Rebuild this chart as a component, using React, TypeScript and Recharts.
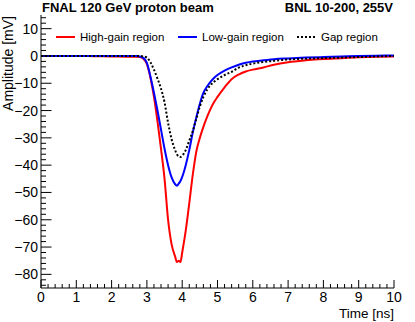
import { Legend, Line, LineChart, XAxis, YAxis } from "recharts";

const time = [
  0, 0.5, 1, 1.5, 2, 2.5, 2.7, 2.8, 2.9, 3.0, 3.1, 3.2, 3.3, 3.4, 3.5, 3.6, 3.7,
  3.8, 3.85, 3.9, 3.95, 4.0, 4.1, 4.2, 4.3, 4.4, 4.5, 4.6, 4.7, 4.8, 4.9, 5.0,
  5.2, 5.4, 5.6, 5.8, 6.0, 6.3, 6.6, 7.0, 7.5, 8.0, 8.5, 9.0, 9.5, 10,
];

const highGain = [
  0, 0, 0, -0.1, -0.2, -0.3, -0.3, -0.4, -1, -3, -8, -15, -24, -34, -45, -60,
  -69, -73.5, -75.5, -75, -75.5, -72, -64, -54, -43.5, -35, -30, -26, -22.5,
  -19.5, -17, -15, -11.5, -8.5, -6.8, -5.7, -5, -4.2, -3.2, -2.3, -1.6, -1.1,
  -0.8, -0.5, -0.3, -0.2,
];

const lowGain = [
  0, 0, 0, 0, 0, 0, 0, -0.2, -0.7, -2.5, -7.5, -13.5, -20, -27, -34, -40,
  -44.5, -47, -47.5, -46.8, -45.8, -44.3, -40, -34.5, -28, -22.5, -17.5, -13.5,
  -11.3, -9.5, -8.1, -7, -5.4, -4.2, -3.2, -2.5, -2, -1.6, -1.2, -0.9, -0.6,
  -0.4, -0.2, 0, 0.1, 0.2,
];

const gap = [
  0, 0, 0, 0, 0, 0, 0, 0, -0.2, -0.6, -2.3, -5, -8.3, -12, -17, -24.5, -30.5,
  -34.5, -36, -36.8, -37, -36.5, -34.5, -31, -27.5, -23, -18.5, -15, -12.5,
  -10.7, -9.5, -8.5, -7, -5.8, -4.3, -3.4, -2.8, -2.2, -1.8, -1.3, -1, -0.8,
  -0.6, -0.4, -0.2, 0,
];

const xMajor = [0, 1, 2, 3, 4, 5, 6, 7, 8, 9, 10];
const yMajor = [-80, -70, -60, -50, -40, -30, -20, -10, 0, 10];

const data = time.map((t, i) => ({
  t,
  high: highGain[i],
  low: lowGain[i],
  gap: gap[i],
}));

// minor ticks: 5 divisions per major step, like ROOT
const xTicks: number[] = [];
for (let i = 0; i <= 50; i++) xTicks.push(Math.round(i * 2) / 10);
const yTicks: number[] = [];
for (let v = -84; v <= 14; v += 2) yTicks.push(v);

const FONT = "'Liberation Sans', Arial, Helvetica, sans-serif";
const W = 415;
const H = 322;

const isMajor = (v: number, step: number) =>
  Math.abs(v / step - Math.round(v / step)) < 1e-6;
const fmt = (v: number) => (v < 0 ? "\u2212" + Math.abs(v) : String(v));

function LeftTick({ x, y, payload }: any) {
  const major = isMajor(payload.value, 10);
  return (
    <g>
      <line x1={x} x2={x + (major ? 10.5 : 5)} y1={y} y2={y} stroke="#000" />
      {major && yMajor.includes(payload.value) && (
        <text x={x - 3} y={y} dy="0.36em" textAnchor="end" fontSize={14} fontFamily={FONT} fill="#000">
          {fmt(payload.value)}
        </text>
      )}
    </g>
  );
}

function RightTick({ x, y, payload }: any) {
  const major = isMajor(payload.value, 10);
  return <line x1={x} x2={x - (major ? 10.5 : 5)} y1={y} y2={y} stroke="#000" />;
}

function BottomTick({ x, y, payload }: any) {
  const major = isMajor(payload.value, 1);
  return (
    <g>
      <line x1={x} x2={x} y1={y} y2={y - (major ? 8 : 4)} stroke="#000" />
      {major && xMajor.includes(Math.round(payload.value)) && (
        <text x={x} y={y + 14} textAnchor="middle" fontSize={14} fontFamily={FONT} fill="#000">
          {Math.round(payload.value)}
        </text>
      )}
    </g>
  );
}

function TopTick({ x, y, payload }: any) {
  const major = isMajor(payload.value, 1);
  return <line x1={x} x2={x} y1={y} y2={y + (major ? 8 : 4)} stroke="#000" />;
}

// legend slots in reference order
const legendSlots: Record<string, { line: number; text: number }> = {
  high: { line: 56, text: 80 },
  low: { line: 178, text: 202 },
  gap: { line: 297, text: 321 },
};

function RootLegend({ payload }: any) {
  return (
    <svg width={W} height={20} style={{ display: "block" }}>
      {(payload || []).map((p: any) => {
        const slot = legendSlots[p.dataKey];
        if (!slot) return null;
        return (
          <g key={p.dataKey}>
            <line
              x1={slot.line}
              x2={slot.line + 19}
              y1={10}
              y2={10}
              stroke={p.color}
              strokeWidth={2}
              strokeDasharray={p.payload?.strokeDasharray}
            />
            <text x={slot.text} y={10} dy="0.36em" fontSize={11.5} fontFamily={FONT} fill="#000">
              {p.value}
            </text>
          </g>
        );
      })}
    </svg>
  );
}

export default function App() {
  return (
    <div style={{ position: "absolute", left: 0, top: 0, width: W, height: H, background: "#fff" }}>
      <LineChart width={W} height={H} data={data} margin={{ top: 15, right: 21, left: 0, bottom: 0 }}>
        <XAxis
          xAxisId="b"
          dataKey="t"
          type="number"
          domain={[0, 10]}
          ticks={xTicks}
          interval={0}
          height={34}
          tickSize={0}
          tickMargin={0}
          tickLine={false}
          axisLine={{ stroke: "#000" }}
          tick={<BottomTick />}
          allowDataOverflow
        />
        <XAxis
          xAxisId="t"
          orientation="top"
          dataKey="t"
          type="number"
          domain={[0, 10]}
          ticks={xTicks}
          interval={0}
          height={0}
          tickSize={0}
          tickMargin={0}
          tickLine={false}
          axisLine={{ stroke: "#000" }}
          tick={<TopTick />}
          allowDataOverflow
        />
        <YAxis
          yAxisId="l"
          type="number"
          domain={[-85, 15]}
          ticks={yTicks}
          interval={0}
          width={41}
          tickSize={0}
          tickMargin={0}
          tickLine={false}
          axisLine={{ stroke: "#000" }}
          tick={<LeftTick />}
          allowDataOverflow
        />
        <YAxis
          yAxisId="r"
          orientation="right"
          type="number"
          domain={[-85, 15]}
          ticks={yTicks}
          interval={0}
          width={0}
          tickSize={0}
          tickMargin={0}
          tickLine={false}
          axisLine={{ stroke: "#000" }}
          tick={<RightTick />}
          allowDataOverflow
        />
        <Legend
          layout="horizontal"
          verticalAlign="middle"
          content={<RootLegend />}
          wrapperStyle={{ position: "absolute", top: 27, left: 0, width: W, height: 20 }}
        />
        <Line
          xAxisId="b"
          yAxisId="l"
          dataKey="high"
          name="High-gain region"
          type="monotone"
          stroke="#ff0000"
          strokeWidth={2}
          dot={false}
          isAnimationActive={false}
        />
        <Line
          xAxisId="b"
          yAxisId="l"
          dataKey="low"
          name="Low-gain region"
          type="monotone"
          stroke="#0000ff"
          strokeWidth={2}
          dot={false}
          isAnimationActive={false}
        />
        <Line
          xAxisId="b"
          yAxisId="l"
          dataKey="gap"
          name="Gap region"
          type="monotone"
          stroke="#000"
          strokeWidth={2}
          strokeDasharray="2 2"
          dot={false}
          isAnimationActive={false}
        />
      </LineChart>
      <svg width={W} height={H} style={{ position: "absolute", left: 0, top: 0, pointerEvents: "none" }}>
        <text x={42} y={12} fontSize={13} fontWeight="bold" fontFamily={FONT}>
          FNAL 120 GeV proton beam
        </text>
        <text x={393} y={12} fontSize={13} fontWeight="bold" fontFamily={FONT} textAnchor="end">
          BNL 10-200, 255V
        </text>
        <text x={394} y={317.5} fontSize={13.5} fontFamily={FONT} textAnchor="end">
          Time [ns]
        </text>
        <text
          x={12.5}
          y={16}
          fontSize={14}
          fontFamily={FONT}
          textAnchor="end"
          transform="rotate(-90 12.5 16)"
        >
          Amplitude [mV]
        </text>
      </svg>
    </div>
  );
}
